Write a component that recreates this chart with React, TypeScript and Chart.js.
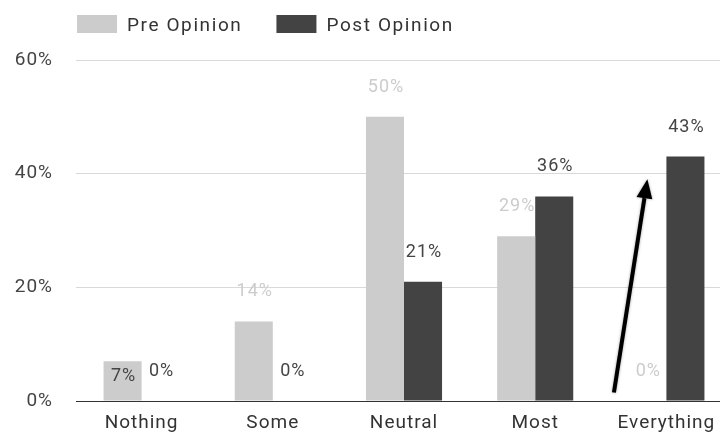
import React, { useEffect, useRef } from 'react';
import { Chart, registerables } from 'chart.js';

Chart.register(...registerables);

// Survey responses, share of respondents (%)
const categories = ['Nothing', 'Some', 'Neutral', 'Most', 'Everything'];
const preOpinion = [7, 14, 50, 29, 0];
const postOpinion = [0, 0, 21, 36, 43];
const seriesNames = ['Pre Opinion', 'Post Opinion'];
const yTicks = [0, 20, 40, 60];

// Hand-drawn arrow over the last category, given in axis units
const arrowCategory = 'Everything';
const arrowTailOffset = -0.4; // category units from the category centre
const arrowTipOffset = -0.145;
const arrowFromValue = 1.5;
const arrowToValue = 39;

const seriesColors = ['#cccccc', '#434343'];
const valueLabelColors = ['#cccccc', '#444444'];
const FONT_FAMILY = 'Roboto, sans-serif';
const FONT_SIZE = 19;
const LETTER_SPACING = '1px';
const LEGEND_LETTER_SPACING = '1.6px';

const letterSpacingPlugin = {
  id: 'letterSpacing',
  beforeUpdate(chart: any) {
    chart.ctx.letterSpacing = LETTER_SPACING;
  },
  beforeDraw(chart: any) {
    chart.ctx.letterSpacing = LETTER_SPACING;
  },
};

const legendPlugin = {
  id: 'topLegend',
  afterDraw(chart: any) {
    const ctx = chart.ctx as CanvasRenderingContext2D;
    ctx.save();
    (ctx as any).letterSpacing = LEGEND_LETTER_SPACING;
    ctx.font = `${FONT_SIZE}px ${FONT_FAMILY}`;
    ctx.textAlign = 'left';
    ctx.textBaseline = 'alphabetic';
    let x = chart.chartArea.left + 1;
    const boxTop = 15;
    const boxW = 40;
    const boxH = 18;
    chart.data.datasets.forEach((ds: any) => {
      ctx.fillStyle = ds.backgroundColor;
      ctx.fillRect(x, boxTop, boxW, boxH);
      ctx.fillStyle = '#333333';
      ctx.fillText(ds.label, x + boxW + 10, 31);
      x += boxW + 10 + ctx.measureText(ds.label).width + 34;
    });
    ctx.restore();
  },
};

const valueLabelPlugin = {
  id: 'valueLabels',
  afterDatasetsDraw(chart: any) {
    const ctx = chart.ctx as CanvasRenderingContext2D;
    ctx.save();
    (ctx as any).letterSpacing = LETTER_SPACING;
    ctx.font = `${FONT_SIZE - 1}px ${FONT_FAMILY}`;
    ctx.textAlign = 'center';
    ctx.textBaseline = 'alphabetic';
    chart.data.datasets.forEach((ds: any, i: number) => {
      const meta = chart.getDatasetMeta(i);
      meta.data.forEach((bar: any, j: number) => {
        const v = ds.data[j] as number;
        const text = `${Math.round(v)}%`;
        // small non-zero bars carry their label inside the bar
        const inside = v > 0 && v < 10;
        ctx.fillStyle = inside ? '#444444' : valueLabelColors[i];
        ctx.fillText(text, bar.x + 1, inside ? bar.y + 20 : bar.y - 25);
      });
    });
    ctx.restore();
  },
};

const arrowPlugin = {
  id: 'arrow',
  afterDatasetsDraw(chart: any) {
    const xs = chart.scales.x;
    const ys = chart.scales.y;
    const idx = categories.indexOf(arrowCategory);
    const x0 = xs.getPixelForValue(idx + arrowTailOffset);
    const y0 = ys.getPixelForValue(arrowFromValue);
    const x1 = xs.getPixelForValue(idx + arrowTipOffset);
    const y1 = ys.getPixelForValue(arrowToValue);
    const ang = Math.atan2(y1 - y0, x1 - x0);
    const headLen = 19;
    const headHalf = 8;
    const bx = x1 - headLen * Math.cos(ang);
    const by = y1 - headLen * Math.sin(ang);
    const ctx = chart.ctx as CanvasRenderingContext2D;
    ctx.save();
    ctx.shadowColor = 'rgba(0,0,0,0.35)';
    ctx.shadowBlur = 3;
    ctx.strokeStyle = '#000000';
    ctx.fillStyle = '#000000';
    ctx.lineWidth = 4;
    ctx.lineCap = 'butt';
    ctx.beginPath();
    ctx.moveTo(x0, y0);
    ctx.lineTo(bx, by);
    ctx.stroke();
    ctx.beginPath();
    ctx.moveTo(x1, y1);
    ctx.lineTo(bx + headHalf * Math.sin(ang), by - headHalf * Math.cos(ang));
    ctx.lineTo(bx - headHalf * Math.sin(ang), by + headHalf * Math.cos(ang));
    ctx.closePath();
    ctx.fill();
    ctx.restore();
  },
};

export default function App() {
  const canvasRef = useRef<HTMLCanvasElement | null>(null);

  useEffect(() => {
    document.body.style.margin = '0';
    const canvas = canvasRef.current;
    if (!canvas) return;
    const chart = new Chart(canvas, {
      type: 'bar',
      data: {
        labels: categories,
        datasets: [
          {
            label: seriesNames[0],
            data: preOpinion,
            backgroundColor: seriesColors[0],
            borderWidth: 0,
            categoryPercentage: 0.58,
            barPercentage: 1,
          },
          {
            label: seriesNames[1],
            data: postOpinion,
            backgroundColor: seriesColors[1],
            borderWidth: 0,
            categoryPercentage: 0.58,
            barPercentage: 1,
          },
        ],
      },
      options: {
        animation: false,
        responsive: true,
        maintainAspectRatio: false,
        layout: { padding: { top: 60, left: 0, right: 0, bottom: 0 } },
        font: { family: FONT_FAMILY, size: FONT_SIZE },
        plugins: {
          legend: { display: false },
          tooltip: { enabled: false },
        },
        scales: {
          x: {
            grid: { display: false },
            border: { display: false },
            ticks: {
              color: '#333333',
              padding: 3,
              font: { family: FONT_FAMILY, size: FONT_SIZE },
            },
            afterFit(scale: any) {
              scale.height = 35;
            },
          },
          y: {
            min: 0,
            max: 60,
            afterBuildTicks(scale: any) {
              scale.ticks = yTicks.map((v) => ({ value: v }));
            },
            ticks: {
              color: '#444444',
              padding: 23,
              font: { family: FONT_FAMILY, size: FONT_SIZE },
              callback: (v: any) => `${v}%`,
            },
            grid: {
              color: (c: any) => (c.tick && c.tick.value === 0 ? '#333333' : '#d9d9d9'),
              drawTicks: false,
              lineWidth: 1,
            },
            border: { display: false },
            afterFit(scale: any) {
              scale.width = 76;
            },
          },
        },
      } as any,
      plugins: [letterSpacingPlugin, legendPlugin, valueLabelPlugin, arrowPlugin],
    });
    return () => chart.destroy();
  }, []);

  return (
    <div style={{ position: 'absolute', left: 0, top: 0, width: 720, height: 436, overflow: 'hidden', background: '#ffffff' }}>
      <div style={{ position: 'relative', width: 732, height: 436 }}>
        <canvas ref={canvasRef} />
      </div>
    </div>
  );
}
